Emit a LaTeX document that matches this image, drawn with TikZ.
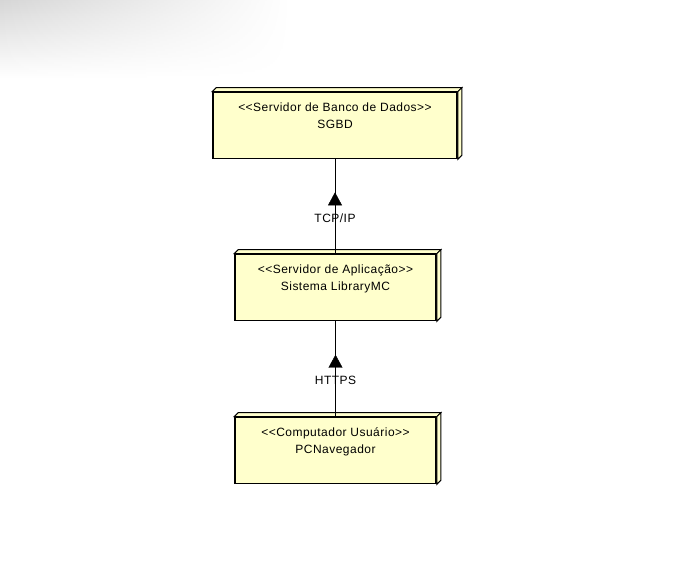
\documentclass[tikz,border=0pt]{standalone}
\usepackage{fontspec}
\setmainfont[Ligatures=TeXOff, LetterSpace=4]{Liberation Sans}
\usetikzlibrary{positioning, arrows.meta, decorations.markings, fadings}
\definecolor{nodeyellow}{RGB}{255,255,204}
\tikzfading[name=shadowfade, left color=transparent!0, right color=transparent!100]
\tikzset{
  >={Triangle[width=14pt, length=13pt]},
  devbox/.style={rectangle, draw=black, line width=1.6pt, fill=nodeyellow, minimum width=#1, minimum height=66pt, inner sep=0pt},
  devtext/.style={align=center, font=\fontsize{12}{17}\selectfont, inner sep=0pt},
  face/.style={draw=black, line width=1pt, fill=nodeyellow},
  link/.style={thin, postaction={decorate}, decoration={markings, mark=at position #1 with {\arrow{>}}}},
  linklabel/.style={font=\fontsize{12}{14}\selectfont, inner sep=0pt}
}
\newcommand{\devfaces}[1]{%
  \path[face] (#1.north west) -- ++(4,-4) -- ([shift={(4,-4)}]#1.north east) -- (#1.north east) -- cycle;
  \path[face] (#1.north east) -- ++(4,-4) -- ([shift={(4,-4)}]#1.south east) -- (#1.south east) -- cycle;
}
\begin{document}
\begin{tikzpicture}[x=1pt, y=-1pt]
\useasboundingbox (0,0) rectangle (688,585);
\shade[top color=black!16, bottom color=white, path fading=shadowfade] (0,0) rectangle (290,78);

% Device nodes
\node[devbox=244pt] (sgbd) at (335,125.5) {};
\devfaces{sgbd}
\node[devtext, below=10.5pt of sgbd.north] (sgbdtext) {<<Servidor de Banco de Dados>>\\SGBD};

\node[devbox=201pt] (app) at (335.5,287.5) {};
\devfaces{app}
\node[devtext, below=10.5pt of app.north] (apptext) {<<Servidor de Aplicação>>\\Sistema LibraryMC};

\node[devbox=201pt] (pc) at (335.5,450.5) {};
\devfaces{pc}
\node[devtext, below=10.5pt of pc.north] (pctext) {<<Computador Usuário>>\\PCNavegador};

% Connectors
\draw[link=0.65] (app.north -| 335,0) -- node[linklabel, pos=0.375] (tcpip) {TCP/IP} (sgbd.south);
\draw[link=0.65] (pc.north) -- node[linklabel, pos=0.378] (https) {HTTPS} (app.south);

\end{tikzpicture}
\end{document}
